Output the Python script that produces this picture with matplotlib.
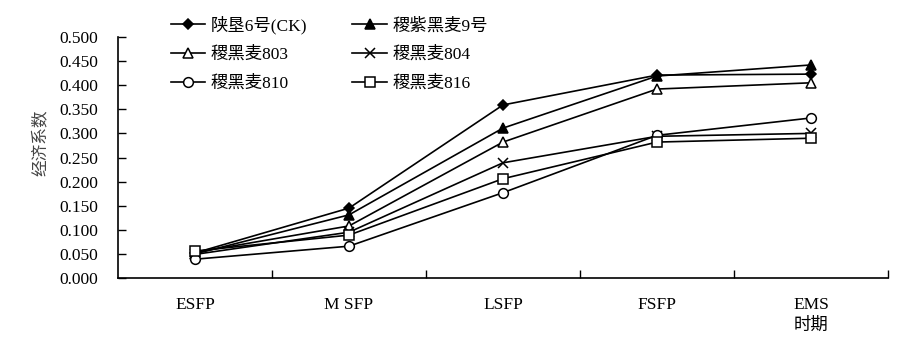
import matplotlib
matplotlib.use("Agg")
import matplotlib.pyplot as plt
import numpy as np

plt.rcParams['font.family'] = ['Liberation Serif', 'Noto Sans CJK SC']

stages = ["ESFP", "M SFP", "LSFP", "FSFP", "EMS"]
names = ["陕垦6号(CK)", "稷紫黑麦9号", "稷黑麦803", "稷黑麦804", "稷黑麦810", "稷黑麦816"]
shaanken6 = [0.052, 0.145, 0.359, 0.421, 0.423]
jizi9 = [0.050, 0.131, 0.311, 0.419, 0.442]
jihei803 = [0.053, 0.108, 0.282, 0.392, 0.405]
jihei804 = [0.049, 0.095, 0.239, 0.294, 0.300]
jihei810 = [0.039, 0.066, 0.177, 0.296, 0.332]
jihei816 = [0.056, 0.089, 0.206, 0.282, 0.290]
yticks = [0.0, 0.05, 0.1, 0.15, 0.2, 0.25, 0.3, 0.35, 0.4, 0.45, 0.5]

series = [shaanken6, jizi9, jihei803, jihei804, jihei810, jihei816]
markers = ["D", "^", "^", "x", "o", "s"]
faces = ["black", "black", "white", "none", "white", "white"]
msizes = [5, 7, 7, 7, 7, 7]

fig = plt.figure(figsize=(9.01, 3.45), dpi=100)
ax = fig.add_axes([118 / 901, 1 - 278 / 345, 770 / 901, 241 / 345])

x = np.arange(len(stages))
handles = []
for vals, m, fc, ms, name in zip(series, markers, faces, msizes, names):
    line, = ax.plot(x, vals, color="black", lw=1.2, marker=m, markersize=ms,
                    markerfacecolor=fc, markeredgecolor="black", markeredgewidth=1.1,
                    label=name)
    handles.append(line)

ax.set_xlim(-0.5, 4.5)
ax.set_ylim(0, 0.5)
ax.set_yticks(yticks)
ax.set_yticklabels(["%.3f" % v for v in yticks])
ax.set_xticks(x)
ax.set_xticklabels(stages)
ax.set_xticks(np.arange(0.5, 5, 1), minor=True)
ax.tick_params(axis="x", which="major", length=0, pad=14, labelsize=12.5)
ax.tick_params(axis="x", which="minor", direction="in", length=6, width=1)
ax.tick_params(axis="y", direction="in", length=6, width=1, labelsize=12.5, pad=14)
for s in ["top", "right"]:
    ax.spines[s].set_visible(False)
for s in ["left", "bottom"]:
    ax.spines[s].set_linewidth(1.2)

fig.text(41 / 901, 1 - 143 / 345, "经济系数", rotation=90, ha="center", va="center",
         fontsize=12, color="#444444")
fig.text(811 / 901, 1 - 326 / 345, "时期", ha="center", va="center", fontsize=12.5)

# legend in two columns, row order as in the source figure
order = [0, 2, 4, 1, 3, 5]
leg = fig.legend([handles[i] for i in order], [names[i] for i in order], ncol=2,
                 loc="upper left", bbox_to_anchor=(155 / 901, 1.0),
                 frameon=False, fontsize=12.5, handlelength=2.0, columnspacing=2.6,
                 labelspacing=0.72, handletextpad=0.3)

fig.savefig("out.png", dpi=100)
